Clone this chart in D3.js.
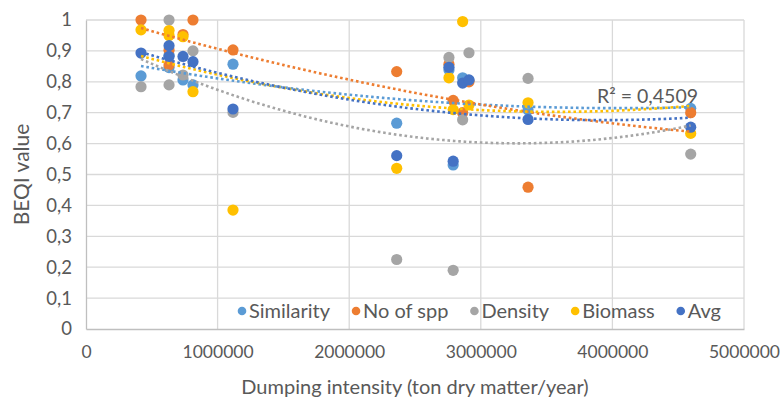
<!DOCTYPE html>
<html>
<head>
<meta charset="utf-8">
<script src="https://cdn.jsdelivr.net/npm/d3@7"></script>
<style>
  html, body { margin: 0; padding: 0; background: #fff; }
  svg text { font-family: Lato, "Open Sans", sans-serif; fill: #595959; }
</style>
</head>
<body>
<svg id="chart" width="782" height="403"></svg>
<script>
// Dumping intensity per site (ton dry matter / year)
const dumping = [418000, 631000, 631000, 737000, 813000, 1117000, 2361000, 2758000, 2790000, 2862000, 2910000, 3359000, 4595000];

// BEQI component values per site
const similarity = [0.819, 0.846, 0.886, 0.806, 0.790, 0.857, 0.666, 0.838, 0.531, 0.813, 0.805, 0.709, 0.714];
const noOfSpp    = [1.000, 0.854, 0.902, 0.953, 1.000, 0.903, 0.833, 0.857, 0.740, 0.700, 0.800, 0.459, 0.700];
const density    = [0.784, 1.000, 0.790, 0.822, 0.900, 0.701, 0.225, 0.879, 0.190, 0.677, 0.894, 0.811, 0.566];
const biomass    = [0.968, 0.966, 0.950, 0.946, 0.768, 0.385, 0.520, 0.813, 0.710, 0.995, 0.725, 0.732, 0.633];
const avg        = [0.893, 0.917, 0.882, 0.882, 0.865, 0.712, 0.561, 0.847, 0.543, 0.796, 0.806, 0.678, 0.653];

const seriesNames  = ["Similarity", "No of spp", "Density", "Biomass", "Avg"];
const seriesColors = ["#5B9BD5", "#ED7D31", "#A5A5A5", "#FFC000", "#4472C4"];
const seriesValues = [similarity, noOfSpp, density, biomass, avg];

const xTicks = [0, 1000000, 2000000, 3000000, 4000000, 5000000];
const yTicks = [0, 0.1, 0.2, 0.3, 0.4, 0.5, 0.6, 0.7, 0.8, 0.9, 1];
const rSquaredLabel = "R² = 0,4509";

const svg = d3.select("#chart");
const plot = { left: 86, right: 744, top: 20, bottom: 329 };

const x = d3.scaleLinear().domain([0, 5000000]).range([plot.left, plot.right]);
const y = d3.scaleLinear().domain([0, 1]).range([plot.bottom, plot.top]);

const locale = d3.formatLocale({ decimal: ",", thousands: "", grouping: [3], currency: ["", ""] });
const fmtY = locale.format(".1~f");
const fmtX = d3.format("d");

// gridlines
svg.append("g")
  .selectAll("line")
  .data(yTicks.filter(d => d > 0))
  .join("line")
  .attr("x1", plot.left).attr("x2", plot.right)
  .attr("y1", d => y(d)).attr("y2", d => y(d))
  .attr("stroke", "#D9D9D9").attr("stroke-width", 1.3);

svg.append("g")
  .selectAll("line")
  .data(xTicks.filter(d => d > 0))
  .join("line")
  .attr("x1", d => x(d)).attr("x2", d => x(d))
  .attr("y1", plot.top).attr("y2", plot.bottom)
  .attr("stroke", "#D9D9D9").attr("stroke-width", 1.3);

// axes
const yAxis = svg.append("g")
  .attr("transform", `translate(${plot.left},0)`)
  .call(d3.axisLeft(y).tickValues(yTicks).tickFormat(fmtY).tickSize(0).tickPadding(14));
yAxis.select(".domain").attr("stroke", "#BFBFBF").attr("stroke-width", 1.3);
yAxis.selectAll("text").attr("font-size", 18.5).style("fill", "#595959");

const xAxis = svg.append("g")
  .attr("transform", `translate(0,${plot.bottom})`)
  .call(d3.axisBottom(x).tickValues(xTicks).tickFormat(fmtX).tickSize(0).tickPadding(17));
xAxis.select(".domain").attr("stroke", "#BFBFBF").attr("stroke-width", 1.3);
xAxis.selectAll("text").attr("font-size", 17.5).style("fill", "#595959");

// axis titles
svg.append("text")
  .attr("x", (plot.left + plot.right) / 2)
  .attr("y", 394)
  .attr("text-anchor", "middle")
  .attr("font-size", 20)
  .text("Dumping intensity (ton dry matter/year)");

svg.append("text")
  .attr("transform", `translate(29,${(plot.top + plot.bottom) / 2}) rotate(-90)`)
  .attr("text-anchor", "middle")
  .attr("font-size", 21)
  .text("BEQI value");

// markers: drawn in series order so Avg ends up on top
seriesValues.forEach((vals, si) => {
  svg.append("g")
    .selectAll("circle")
    .data(vals.map((v, i) => ({ x: dumping[i], y: v })))
    .join("circle")
    .attr("cx", d => x(d.x))
    .attr("cy", d => y(d.y))
    .attr("r", 5.6)
    .attr("fill", seriesColors[si]);
});

// least-squares polynomial fit (trend line per series)
function polyFit(xs, ys, order) {
  const n = order + 1;
  const A = Array.from({ length: n }, () => new Array(n + 1).fill(0));
  xs.forEach((xv, k) => {
    for (let r = 0; r < n; r++) {
      for (let c = 0; c < n; c++) A[r][c] += Math.pow(xv, r + c);
      A[r][n] += ys[k] * Math.pow(xv, r);
    }
  });
  for (let i = 0; i < n; i++) {
    let p = i;
    for (let r = i + 1; r < n; r++) if (Math.abs(A[r][i]) > Math.abs(A[p][i])) p = r;
    [A[i], A[p]] = [A[p], A[i]];
    for (let r = 0; r < n; r++) {
      if (r === i) continue;
      const f = A[r][i] / A[i][i];
      for (let c = i; c <= n; c++) A[r][c] -= f * A[i][c];
    }
  }
  return A.map((row, i) => row[n] / row[i]);
}

const xm = dumping.map(d => d / 1e6);
const [xMin, xMax] = d3.extent(xm);
const line = d3.line().x(d => x(d[0] * 1e6)).y(d => y(d[1]));

seriesValues.forEach((vals, si) => {
  const coef = polyFit(xm, vals, 2);
  const pts = d3.range(0, 101).map(k => {
    const xv = xMin + (xMax - xMin) * k / 100;
    return [xv, coef.reduce((s, c, p) => s + c * Math.pow(xv, p), 0)];
  });
  svg.append("path")
    .attr("d", line(pts))
    .attr("fill", "none")
    .attr("stroke", seriesColors[si])
    .attr("stroke-width", 2.6)
    .attr("stroke-dasharray", "2.6 2.8");
});

svg.append("text")
  .attr("x", 597)
  .attr("y", 103)
  .attr("font-size", 19.5)
  .text(rSquaredLabel);

// legend
const legend = svg.append("g").attr("transform", "translate(0,311)");
let lx = 242;
seriesNames.forEach((name, i) => {
  const g = legend.append("g");
  g.append("circle").attr("cx", lx).attr("cy", 0).attr("r", 4.3).attr("fill", seriesColors[i]);
  const t = g.append("text")
    .attr("x", lx + 7)
    .attr("dy", "0.35em")
    .attr("font-size", 20)
    .text(name);
  lx = lx + 7 + t.node().getComputedTextLength() + 26;
});
</script>
</body>
</html>
